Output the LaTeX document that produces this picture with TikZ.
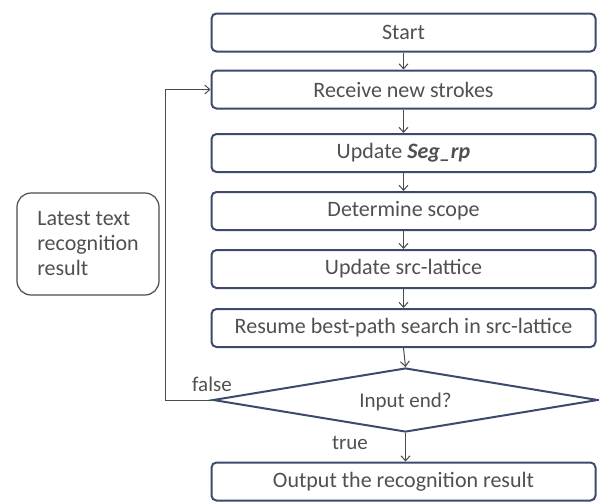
\documentclass[tikz,border=0pt]{standalone}
\usepackage{fontspec}
\setmainfont{Carlito}
\usetikzlibrary{shapes.geometric,arrows.meta}
\definecolor{bord}{HTML}{3C4A6E}
\definecolor{txt}{HTML}{505050}
\definecolor{arr}{HTML}{4A4A4A}
\begin{document}
\begin{tikzpicture}[x=1pt,y=-1pt,
  stepbox/.style={draw=bord,line width=2pt,rounded corners=5pt,minimum width=384pt,minimum height=38pt,inner sep=0pt,text=txt,font=\fontsize{22}{26}\selectfont,fill=white},
  decision/.style={draw=bord,line width=2pt,diamond,minimum width=385pt,minimum height=64pt,inner sep=0pt,text=txt,font=\fontsize{21}{25}\selectfont},
  flow/.style={draw=arr,line width=1pt,-{Straight Barb[length=5pt,width=9pt]}},
  lbl/.style={text=txt,font=\fontsize{21}{25}\selectfont}]
\useasboundingbox (0,0) rectangle (599,501);
\node[stepbox] (start) at (403.5,32.5) {Start};
\node[stepbox] (recv) at (403.5,89.5) {Receive new strokes};
\node[stepbox] (seg) at (403.5,153) {Update \textbf{\textit{Seg\_rp}}};
\node[stepbox] (scope) at (403.5,211) {Determine scope};
\node[stepbox] (lat) at (403.5,269) {Update src-lattice};
\node[stepbox] (res) at (403.5,328) {Resume best-path search in src-lattice};
\node[decision] (dec) at (405.5,400) {\smash{\raisebox{-7pt}{\makebox[0pt]{Input end?}}}};
\node[stepbox] (out) at (403.5,481.5) {Output the recognition result};
\node[draw=black!70,line width=1.2pt,rounded corners=14pt,minimum width=142pt,minimum height=102pt,text=txt,align=left,font=\fontsize{22}{25}\selectfont] (latest) at (88,244) {Latest text\\recognition\\result};
\coordinate (c1) at (165,400);
\coordinate (c2) at (165,89.5);
\draw[flow] (start) -- (recv);
\draw[flow] (recv) -- (seg);
\draw[flow] (seg) -- (scope);
\draw[flow] (scope) -- (lat);
\draw[flow] (lat) -- (res);
\draw[flow] (res.south) -- (dec.north);
\draw[flow] (dec.south) -- (out.north -| dec.south);
\draw[flow] (dec.west) -- (c1) -- (c2) -- (recv.west);
\node[lbl] (f) at (212,384) {false};
\node[lbl] (t) at (350,443) {true};
\end{tikzpicture}
\end{document}
